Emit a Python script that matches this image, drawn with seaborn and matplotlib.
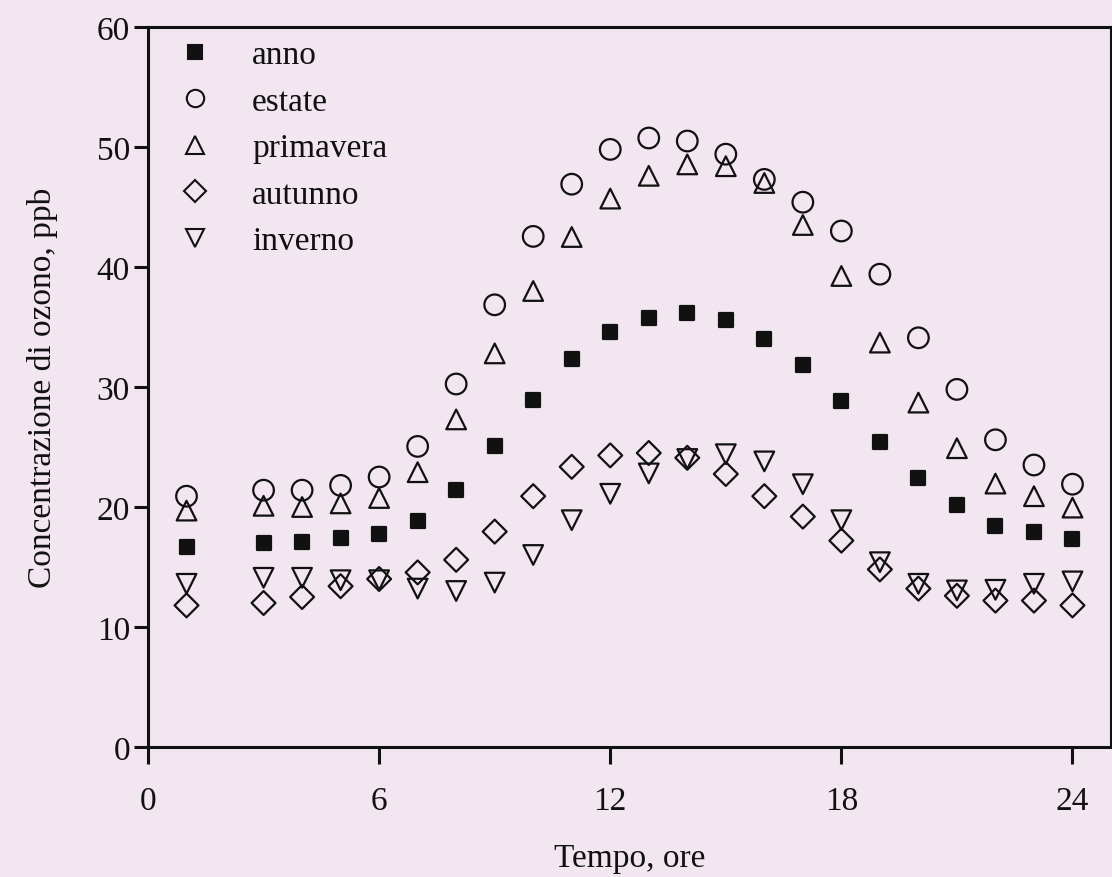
import matplotlib
matplotlib.use("Agg")
import matplotlib.pyplot as plt
from matplotlib.lines import Line2D
import seaborn as sns
import pandas as pd

# ---------------- data ----------------
hours = [1, 3, 4, 5, 6, 7, 8, 9, 10, 11, 12, 13, 14, 15, 16, 17, 18, 19, 20, 21, 22, 23, 24]
anno = [16.7, 17.0, 17.1, 17.4, 17.75, 18.8, 21.4, 25.05, 28.9, 32.3, 34.55, 35.75, 36.2,
        35.6, 34.0, 31.8, 28.8, 25.4, 22.4, 20.2, 18.45, 17.9, 17.3]
estate = [20.9, 21.4, 21.4, 21.8, 22.5, 25.05, 30.25, 36.85, 42.55, 46.9, 49.8, 50.75, 50.5,
          49.4, 47.3, 45.4, 43.0, 39.4, 34.1, 29.8, 25.6, 23.5, 21.9]
primavera = [19.7, 20.1, 20.0, 20.3, 20.75, 22.9, 27.3, 32.8, 38.0, 42.5, 45.7, 47.6, 48.55,
             48.4, 47.0, 43.5, 39.25, 33.7, 28.7, 24.9, 21.95, 20.9, 19.95]
autunno = [11.8, 12.0, 12.5, 13.4, 14.0, 14.55, 15.6, 17.95, 20.9, 23.35, 24.3, 24.5, 24.1,
           22.75, 20.9, 19.2, 17.2, 14.8, 13.2, 12.6, 12.2, 12.2, 11.8]
inverno = [13.6, 14.1, 14.1, 13.9, 13.9, 13.2, 13.0, 13.7, 16.0, 18.9, 21.1, 22.8, 24.0,
           24.4, 23.8, 21.9, 18.9, 15.4, 13.6, 13.05, 13.1, 13.6, 13.8]

series_names = ["anno", "estate", "primavera", "autunno", "inverno"]
series_values = [anno, estate, primavera, autunno, inverno]
x_ticks = [0, 6, 12, 18, 24]
y_ticks = [0, 10, 20, 30, 40, 50, 60]
x_label = "Tempo, ore"
y_label = "Concentrazione di ozono, ppb"

# ---------------- styles ----------------
markers = {"anno": "s", "estate": "o", "primavera": "^", "autunno": "D", "inverno": "v"}
msize = {"anno": 115, "estate": 220, "primavera": 200, "autunno": 148, "inverno": 200}
leg_msize = {"anno": 10.5, "estate": 12.5, "primavera": 12.5, "autunno": 11, "inverno": 12.5}
filled = {"anno": True, "estate": False, "primavera": False, "autunno": False, "inverno": False}

bg = "#F2E6F0"
ink = "#111111"
fs = 24

sns.set_theme(style="ticks")
plt.rcParams["font.family"] = ["Liberation Serif", "DejaVu Serif"]
plt.rcParams["axes.facecolor"] = bg
plt.rcParams["figure.facecolor"] = bg

rows = []
for name, vals in zip(series_names, series_values):
    for h, v in zip(hours, vals):
        rows.append({"ora": h, "ozono": v, "serie": name})
df = pd.DataFrame(rows)

fig = plt.figure(figsize=(11.12, 8.78), dpi=100)
ax = fig.add_axes([148 / 1112, 130 / 878, 963 / 1112, 720 / 878])
ax.set_facecolor(bg)

lw = 1.6
for name in series_names:
    sub = df[df["serie"] == name]
    sns.scatterplot(
        data=sub, x="ora", y="ozono", ax=ax,
        marker=markers[name], s=msize[name],
        facecolor=ink if filled[name] else "none",
        edgecolor=ink, linewidth=lw, legend=False, zorder=3,
    )

ax.set_xlim(0, 25)
ax.set_ylim(0, 60)
ax.set_xticks(x_ticks)
ax.set_yticks(y_ticks)
ax.tick_params(axis="both", direction="out", width=2.2, color=ink,
               labelsize=fs, labelcolor=ink)
ax.tick_params(axis="x", length=12, pad=16)
ax.tick_params(axis="y", length=10, pad=3)
ax.set_xlabel(x_label, fontsize=fs, color=ink, labelpad=19)
ax.set_ylabel(y_label, fontsize=fs, color=ink, labelpad=28)

for side in ["left", "bottom", "top"]:
    ax.spines[side].set_linewidth(2.2)
    ax.spines[side].set_color(ink)
ax.spines["right"].set_linewidth(1.5)
ax.spines["right"].set_color(ink)

handles = []
for name in series_names:
    handles.append(Line2D([], [], linestyle="none", marker=markers[name],
                          markersize=leg_msize[name],
                          markerfacecolor=ink if filled[name] else "none",
                          markeredgecolor=ink, markeredgewidth=1.5, label=name))
leg = ax.legend(handles=handles, loc="upper left", bbox_to_anchor=(0.032, 0.982),
                frameon=False, fontsize=fs, handlelength=1.0, handletextpad=1.2,
                labelspacing=0.48, borderpad=0, borderaxespad=0)
for t in leg.get_texts():
    t.set_color(ink)

fig.savefig("out.png", dpi=100, facecolor=bg)
